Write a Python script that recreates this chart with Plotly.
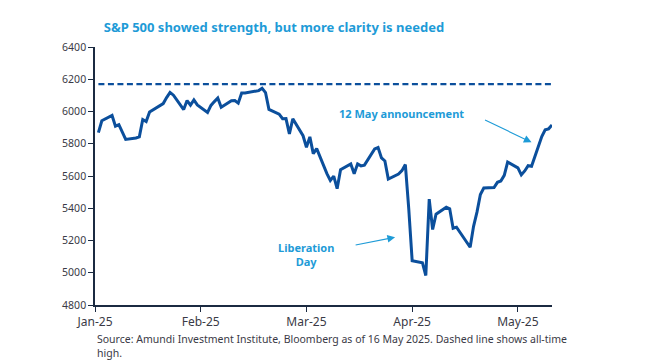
import plotly.graph_objects as go

# ---- data (S&P 500 daily closes) ----
jan_days = ["02", "03", "06", "07", "08", "10", "13", "14", "15", "16", "17", "21", "22", "23", "24", "27", "28", "29", "30", "31"]
jan_vals = [5868.55, 5942.47, 5975.38, 5909.03, 5918.25, 5827.04, 5836.22, 5842.91, 5949.91, 5937.34,
            5996.66, 6049.24, 6086.37, 6118.71, 6101.24, 6012.28, 6067.70, 6039.31, 6071.17, 6040.53]
feb_days = ["03", "04", "05", "06", "07", "10", "11", "12", "13", "14", "18", "19", "20", "21", "24", "25", "26", "27", "28"]
feb_vals = [5994.57, 6037.88, 6061.48, 6083.57, 6025.99, 6066.44, 6068.50, 6051.97, 6115.07, 6114.63,
            6129.58, 6144.15, 6117.52, 6013.13, 5983.25, 5955.25, 5956.06, 5861.57, 5954.50]
mar_days = ["03", "04", "05", "06", "07", "10", "11", "12", "13", "14", "17", "18", "19", "20", "21", "24", "25", "26", "27", "28", "31"]
mar_vals = [5849.72, 5778.15, 5842.63, 5738.52, 5770.20, 5614.56, 5572.07, 5599.30, 5521.52, 5638.94,
            5675.12, 5614.66, 5675.29, 5662.89, 5667.56, 5767.57, 5776.65, 5712.20, 5693.31, 5580.94, 5611.85]
apr_days = ["01", "02", "03", "04", "07", "08", "09", "10", "11", "14", "15", "16", "17", "21", "22", "23", "24", "25", "28", "29", "30"]
apr_vals = [5633.07, 5670.97, 5396.52, 5074.08, 5062.25, 4982.77, 5456.90, 5268.05, 5363.36, 5405.97,
            5396.63, 5275.70, 5282.70, 5158.20, 5287.76, 5375.86, 5484.77, 5525.21, 5528.75, 5560.83, 5569.06]
may_days = ["01", "02", "05", "06", "07", "08", "09", "12", "13", "14", "15"]
may_vals = [5604.14, 5686.67, 5650.38, 5606.91, 5631.28, 5663.94, 5659.91, 5844.19, 5886.55, 5892.58, 5916.93]

ath_level = 6170

tick_dates = ["2025-01-01", "2025-02-01", "2025-03-04", "2025-04-04", "2025-05-05"]
tick_labels = ["Jan-25", "Feb-25", "Mar-25", "Apr-25", "May-25"]

title_text = "S&P 500 showed strength, but more clarity is needed"
source_text = ("Source: Amundi Investment Institute, Bloomberg as of 16 May 2025. Dashed line shows all-time"
               "<br>high.")

# ---- build series ----
dates, closes = [], []
for m, days, vals in [("01", jan_days, jan_vals), ("02", feb_days, feb_vals), ("03", mar_days, mar_vals),
                      ("04", apr_days, apr_vals), ("05", may_days, may_vals)]:
    dates += [f"2025-{m}-{d}" for d in days]
    closes += vals

LINE = "#0B4F9C"
CYAN = "#1E9BD7"
AXIS = "#1B2A41"
TEXT = "#3A3A46"
FONT = "Noto Sans"

fig = go.Figure()
fig.add_trace(go.Scatter(x=[dates[0], dates[-1]], y=[ath_level, ath_level], mode="lines",
                         line=dict(color=LINE, width=2.4, dash="6px,3.5px"), hoverinfo="skip", showlegend=False))
fig.add_trace(go.Scatter(x=dates, y=closes, mode="lines",
                         line=dict(color=LINE, width=3), showlegend=False))

# page body has an 8px margin, so the figure is 8px smaller and offset
fig.update_layout(
    width=640, height=356,
    margin=dict(l=87, r=96, t=39, b=59),
    paper_bgcolor="white", plot_bgcolor="white",
    font=dict(family=FONT, color=TEXT),
    title=dict(text=f"<b>{title_text}</b>", x=0.4156, xanchor="center", xref="container",
               y=0.945, yanchor="middle", yref="container",
               font=dict(family=FONT, size=13, color=CYAN)),
    showlegend=False,
)
fig.update_xaxes(type="date", range=["2025-01-01", "2025-05-15"],
                 tickvals=tick_dates, ticktext=tick_labels,
                 ticks="outside", ticklen=5, tickcolor=AXIS, tickwidth=1.2,
                 showline=True, linecolor=AXIS, linewidth=1.5,
                 showgrid=False, zeroline=False,
                 tickfont=dict(family=FONT, size=12, color=TEXT))
fig.update_yaxes(range=[4800, 6400], dtick=200, tick0=4800,
                 ticks="outside", ticklen=5, tickcolor=AXIS, tickwidth=1.2,
                 showline=True, linecolor=AXIS, linewidth=1.5,
                 showgrid=False, zeroline=False,
                 tickfont=dict(family=FONT, size=10.5, color=TEXT))

# text annotations
fig.add_annotation(x="2025-04-01", y=5989, text="<b>12 May announcement</b>", showarrow=False,
                   font=dict(family=FONT, size=11, color=CYAN), xanchor="center", yanchor="middle")
fig.add_annotation(x="2025-03-04", y=5113, text="<b>Liberation<br>Day</b>", showarrow=False,
                   font=dict(family=FONT, size=11, color=CYAN), xanchor="center", yanchor="middle")
# arrows
fig.add_annotation(x="2025-05-09", y=5809, ax=-48, ay=-23, text="", showarrow=True,
                   arrowhead=2, arrowsize=1.4, arrowwidth=1.1, arrowcolor=CYAN, standoff=0, startstandoff=0)
fig.add_annotation(x="2025-03-30", y=5220, ax=-41, ay=8, text="", showarrow=True,
                   arrowhead=2, arrowsize=1.4, arrowwidth=1.1, arrowcolor=CYAN, standoff=0, startstandoff=0)

# source
fig.add_annotation(xref="paper", yref="paper", x=0.0, y=-0.16, xanchor="left", yanchor="middle",
                   align="left", text=source_text, showarrow=False,
                   font=dict(family=FONT, size=10.5, color=TEXT))

fig.write_html("out.html")
